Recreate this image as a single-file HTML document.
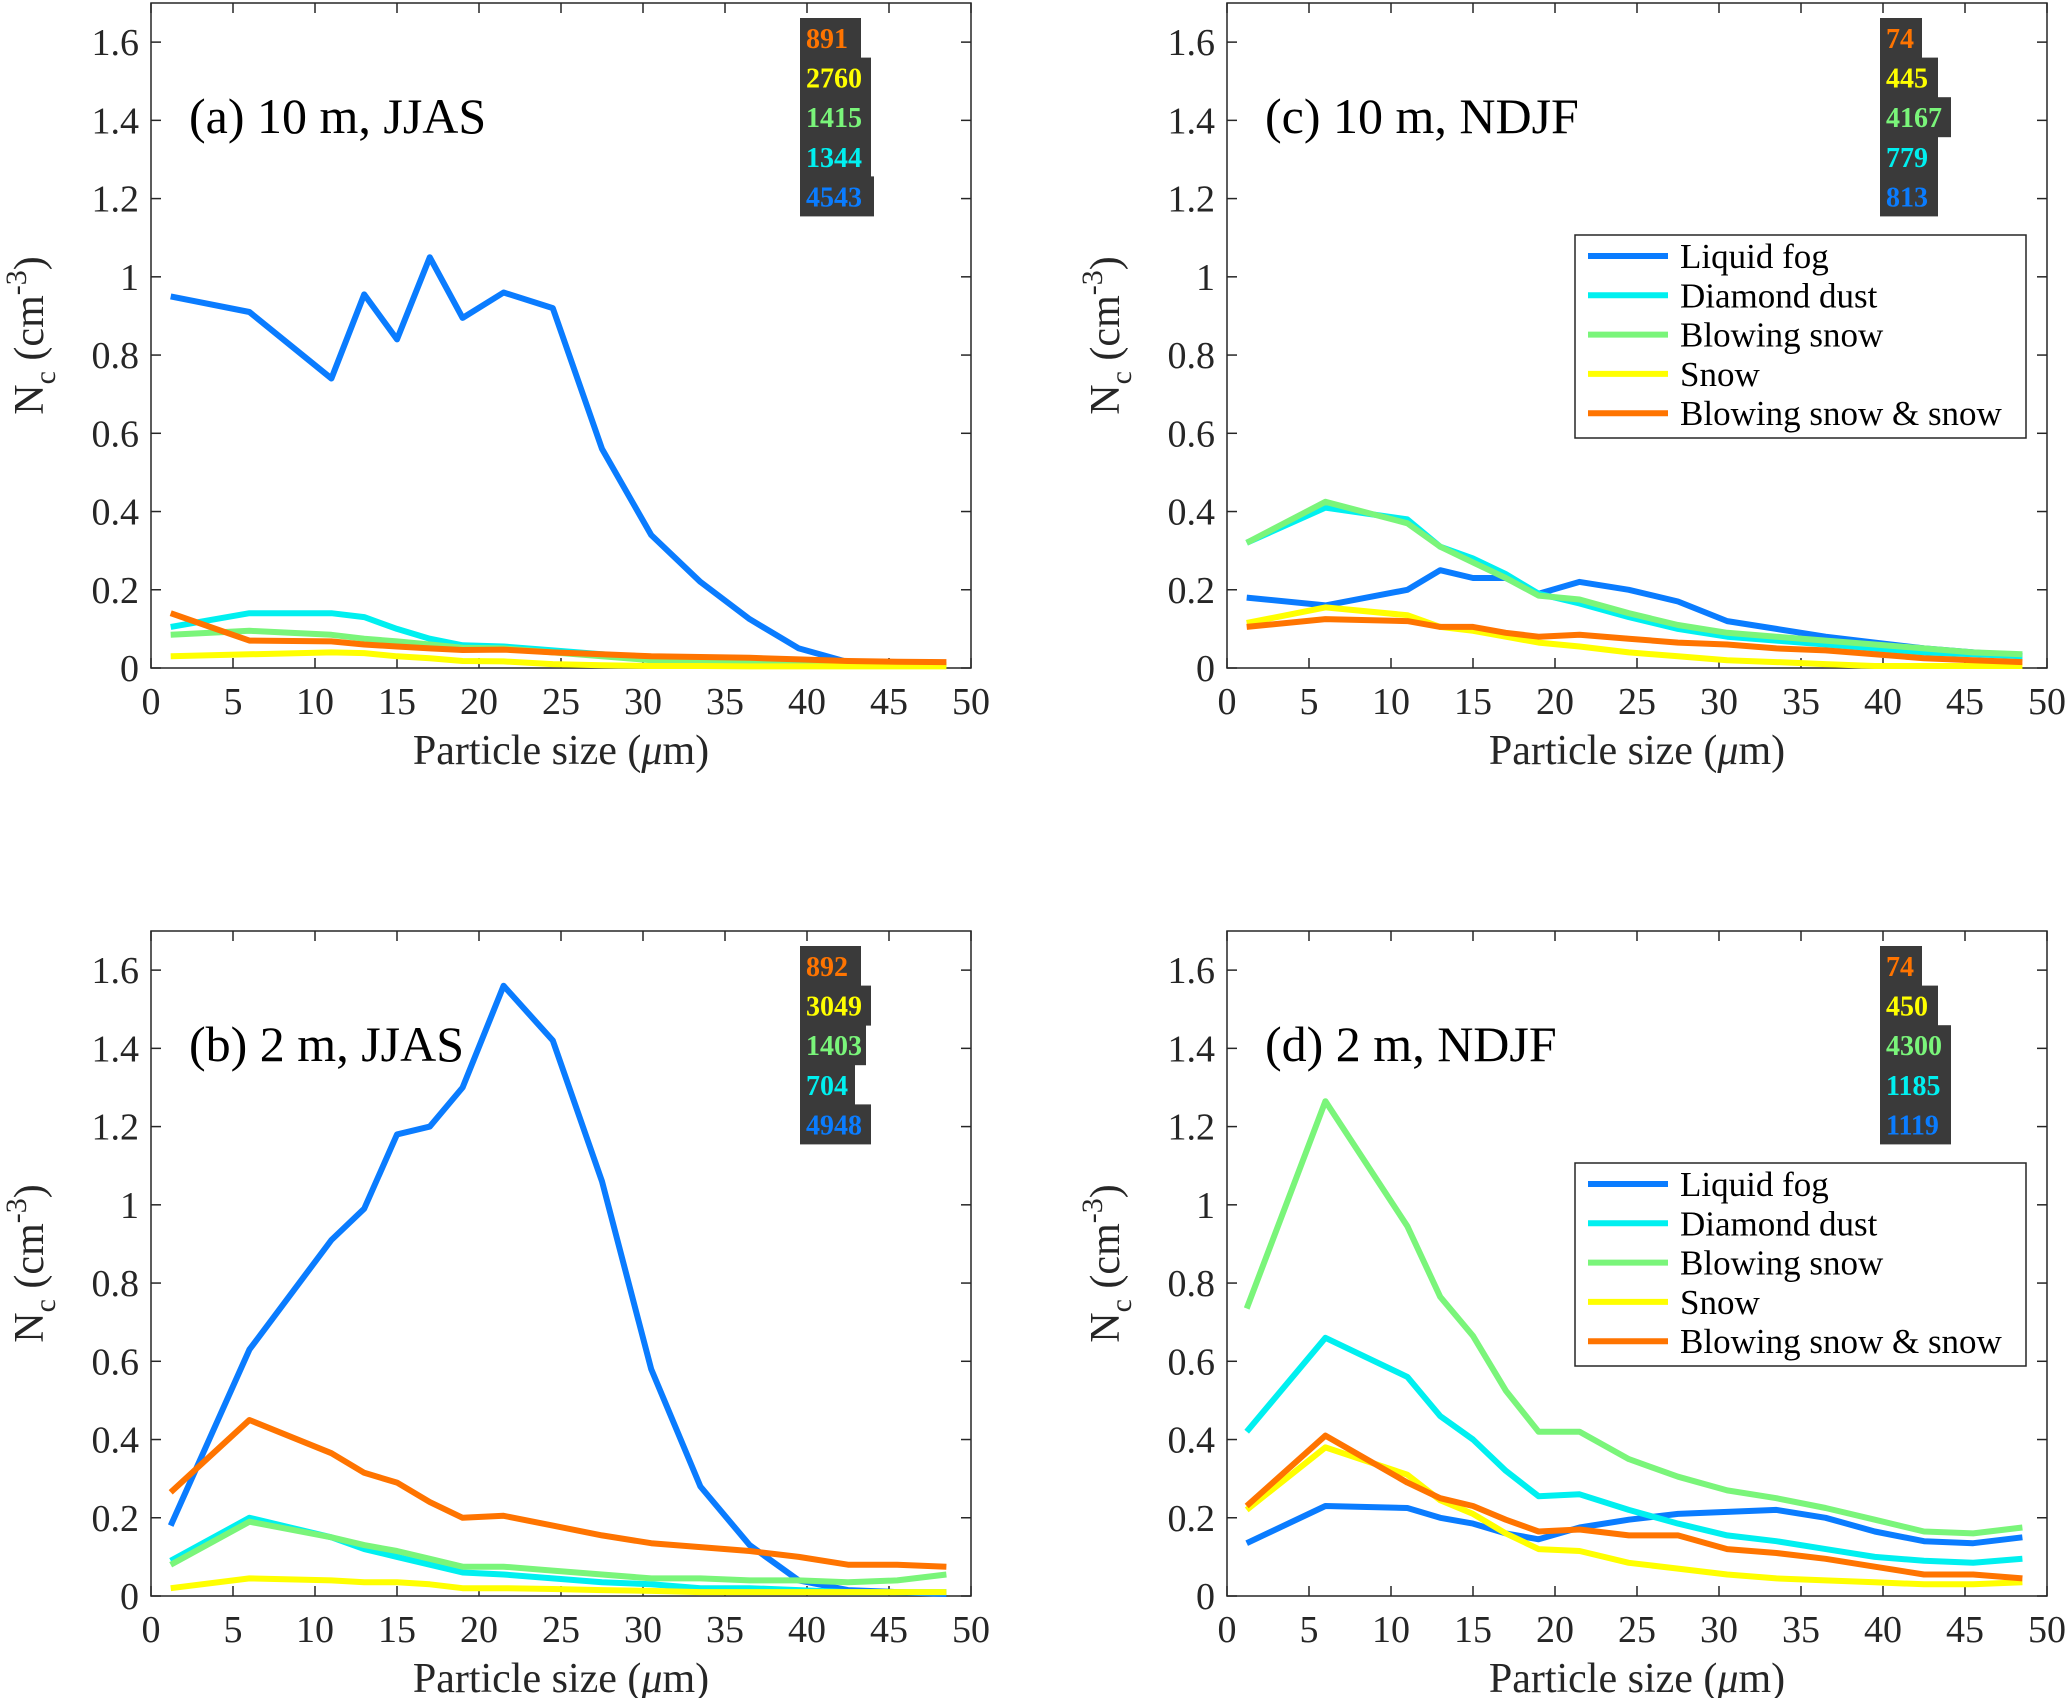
<!DOCTYPE html>
<html><head><meta charset="utf-8"><style>
html,body{margin:0;padding:0;background:#fff;}
svg{display:block;font-family:"Liberation Serif","DejaVu Serif",serif;}
</style></head><body>
<svg id="fig" width="2067" height="1698" viewBox="0 0 2067 1698" xmlns="http://www.w3.org/2000/svg"></svg>
<script>
const xs = [1.2,6,11,13,15,17,19,21.5,24.5,27.5,30.5,33.5,36.5,39.5,42.5,45.5,48.5];
const seriesNames = ["Liquid fog","Diamond dust","Blowing snow","Snow","Blowing snow & snow"];
const colors = ["#0a7cff","#00f0f0","#7af57a","#ffff00","#ff7400"];
const xTicks = [0,5,10,15,20,25,30,35,40,45,50];
const yTicks = [0,0.2,0.4,0.6,0.8,1,1.2,1.4,1.6];
const yTickLabels = ["0","0.2","0.4","0.6","0.8","1","1.2","1.4","1.6"];

const aBlue=[0.95,0.91,0.74,0.955,0.84,1.05,0.895,0.96,0.92,0.56,0.34,0.22,0.125,0.05,0.015,0.01,0.005];
const aCyan=[0.105,0.14,0.14,0.13,0.1,0.075,0.058,0.055,0.045,0.035,0.025,0.02,0.015,0.01,0.01,0.008,0.008];
const aGreen=[0.085,0.095,0.085,0.075,0.068,0.06,0.052,0.05,0.04,0.03,0.02,0.015,0.012,0.01,0.01,0.008,0.008];
const aYellow=[0.03,0.035,0.04,0.038,0.03,0.025,0.018,0.017,0.01,0.007,0.005,0.005,0.004,0.004,0.004,0.004,0.004];
const aOrange=[0.14,0.07,0.068,0.06,0.055,0.05,0.046,0.047,0.04,0.035,0.03,0.028,0.026,0.022,0.018,0.016,0.015];

const cBlue=[0.18,0.16,0.2,0.25,0.23,0.23,0.19,0.22,0.2,0.17,0.12,0.1,0.08,0.065,0.05,0.04,0.03];
const cCyan=[0.32,0.41,0.38,0.31,0.28,0.24,0.19,0.165,0.13,0.1,0.08,0.07,0.06,0.05,0.04,0.035,0.03];
const cGreen=[0.32,0.425,0.37,0.31,0.27,0.23,0.185,0.175,0.14,0.11,0.09,0.08,0.07,0.06,0.05,0.04,0.035];
const cYellow=[0.115,0.155,0.135,0.105,0.095,0.08,0.065,0.055,0.04,0.03,0.02,0.015,0.01,0.005,0.005,0.005,0.005];
const cOrange=[0.105,0.125,0.12,0.105,0.105,0.09,0.08,0.085,0.075,0.065,0.06,0.05,0.045,0.035,0.025,0.02,0.015];

const bBlue=[0.18,0.63,0.91,0.99,1.18,1.2,1.3,1.56,1.42,1.06,0.58,0.28,0.13,0.04,0.015,0.01,0.005];
const bCyan=[0.09,0.2,0.15,0.12,0.1,0.08,0.06,0.055,0.045,0.035,0.03,0.02,0.02,0.015,0.01,0.01,0.01];
const bGreen=[0.08,0.19,0.15,0.13,0.115,0.095,0.075,0.075,0.065,0.055,0.045,0.045,0.04,0.04,0.035,0.04,0.055];
const bYellow=[0.02,0.045,0.04,0.035,0.035,0.03,0.02,0.02,0.018,0.015,0.013,0.01,0.01,0.01,0.01,0.01,0.01];
const bOrange=[0.265,0.45,0.365,0.315,0.29,0.24,0.2,0.205,0.18,0.155,0.135,0.125,0.115,0.1,0.08,0.08,0.075];

const dBlue=[0.135,0.23,0.225,0.2,0.185,0.16,0.145,0.175,0.195,0.21,0.215,0.22,0.2,0.165,0.14,0.135,0.15];
const dCyan=[0.42,0.66,0.56,0.46,0.4,0.32,0.255,0.26,0.22,0.185,0.155,0.14,0.12,0.1,0.09,0.085,0.095];
const dGreen=[0.735,1.265,0.945,0.765,0.665,0.525,0.42,0.42,0.35,0.305,0.27,0.25,0.225,0.195,0.165,0.16,0.175];
const dYellow=[0.22,0.38,0.31,0.245,0.21,0.16,0.12,0.115,0.085,0.07,0.055,0.045,0.04,0.035,0.03,0.03,0.035];
const dOrange=[0.23,0.41,0.29,0.25,0.23,0.195,0.165,0.17,0.155,0.155,0.12,0.11,0.095,0.075,0.055,0.055,0.045];

const aCounts=["891","2760","1415","1344","4543"];
const bCounts=["892","3049","1403","704","4948"];
const cCounts=["74","445","4167","779","813"];
const dCounts=["74","450","4300","1185","1119"];

const NS="http://www.w3.org/2000/svg";
const svg=document.getElementById('fig');
function mk(tag,attrs,parent,text){const e=document.createElementNS(NS,tag);for(const k in attrs)e.setAttribute(k,attrs[k]);if(text!==undefined)e.textContent=text;(parent||svg).appendChild(e);return e;}

const panels=[
 {id:'a',L:151,T:3,title:"(a) 10 m, JJAS",data:[aBlue,aCyan,aGreen,aYellow,aOrange],counts:aCounts,cw:[61,71,71,71,74],legend:false},
 {id:'c',L:1227,T:3,title:"(c) 10 m, NDJF",data:[cBlue,cCyan,cGreen,cYellow,cOrange],counts:cCounts,cw:[42,58,71,58,58],legend:true},
 {id:'b',L:151,T:931,title:"(b) 2 m, JJAS",data:[bBlue,bCyan,bGreen,bYellow,bOrange],counts:bCounts,cw:[61,71,66,55,71],legend:false},
 {id:'d',L:1227,T:931,title:"(d) 2 m, NDJF",data:[dBlue,dCyan,dGreen,dYellow,dOrange],counts:dCounts,cw:[42,58,71,71,71],legend:true}
];
const W=820,H=665,YMAX=1.7,XMAX=50;

panels.forEach(p=>{
  const g=mk('g',{});
  
  
  const X=v=>p.L+v/XMAX*W;
  const Y=v=>p.T+H-v/YMAX*H;
  const B=p.T+H;
  mk('rect',{x:p.L,y:p.T,width:W,height:H,fill:'#fff',stroke:'#262626','stroke-width':1.5},g);
  xTicks.forEach(t=>{
    const x=X(t);
    mk('line',{x1:x,y1:B,x2:x,y2:B-10,stroke:'#262626','stroke-width':1.5},g);
    mk('line',{x1:x,y1:p.T,x2:x,y2:p.T+10,stroke:'#262626','stroke-width':1.5},g);
    const tl=mk('text',{x:x,y:B+46,'text-anchor':'middle','font-size':38,fill:'#262626'},g,String(t));
    
    
  });
  yTicks.forEach((t,i)=>{
    const y=Y(t);
    mk('line',{x1:p.L,y1:y,x2:p.L+10,y2:y,stroke:'#262626','stroke-width':1.5},g);
    mk('line',{x1:p.L+W,y1:y,x2:p.L+W-10,y2:y,stroke:'#262626','stroke-width':1.5},g);
    const tl=mk('text',{x:p.L-12,y:y+13,'text-anchor':'end','font-size':38,fill:'#262626'},g,yTickLabels[i]);
    
    
  });
  const xl=mk('text',{x:p.L+W/2,y:B+96,'text-anchor':'middle','font-size':42,fill:'#262626'},g);
  
  
  xl.innerHTML='Particle size (<tspan font-style="italic">μ</tspan>m)';
  const cy=p.T+H/2, cx=p.L-108;
  const yl=mk('text',{x:cx,y:cy,'text-anchor':'middle','font-size':42,fill:'#262626',transform:`rotate(-90 ${cx} ${cy})`},g);
  
  
  yl.innerHTML='N<tspan dy="12" font-size="30">c</tspan><tspan dy="-12"> (cm</tspan><tspan dy="-17" font-size="30">-3</tspan><tspan dy="17">)</tspan>';
  const tt=mk('text',{x:p.L+38,y:p.T+130,'font-size':50,fill:'#000'},g,p.title);
  
  
  p.data.forEach((vals,si)=>{
    const pts=vals.map((v,i)=>X(xs[i]).toFixed(1)+','+Y(v).toFixed(1)).join(' ');
    const pl=mk('polyline',{points:pts,fill:'none',stroke:colors[si],'stroke-width':6,'stroke-linejoin':'round'},g);
    
    
  });
  const order=[4,3,2,1,0];
  const bx=p.id==='a'||p.id==='b'?800:1880;
  p.counts.forEach((c,i)=>{
    const y0=p.T+15+i*39.6;
    const r=mk('rect',{x:bx,y:y0,width:p.cw[i],height:40,fill:'#3a3a3a'},g);
    
    
    const t=mk('text',{x:bx+6,y:y0+30,'font-size':28,'font-weight':'bold',fill:colors[order[i]]},g,c);
    
    
  });
  if(p.legend){
    const lg=mk('g',{},g);
    
    
    const ly=p.T+232;
    mk('rect',{x:1575,y:ly,width:451,height:203,fill:'#fff',stroke:'#262626','stroke-width':1.5},lg);
    seriesNames.forEach((n,i)=>{
      const yy=ly+21+i*39.3;
      mk('line',{x1:1588,y1:yy,x2:1668,y2:yy,stroke:colors[i],'stroke-width':6},lg);
      const t=mk('text',{x:1680,y:yy+12,'font-size':35,fill:'#000'},lg,n);
      
      
    });
  }
});
</script>
</body></html>
